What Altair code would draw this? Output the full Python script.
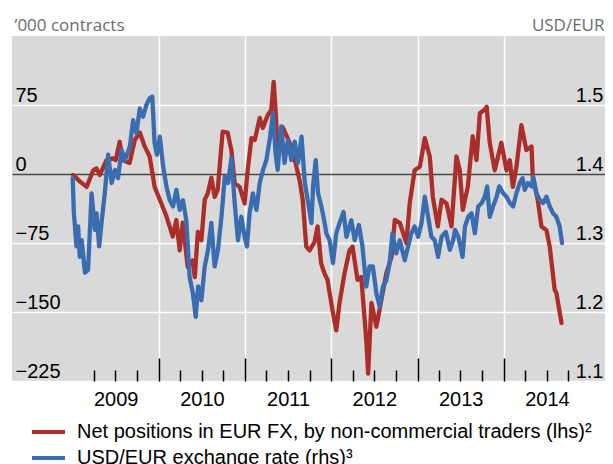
import altair as alt
import pandas as pd

# ---------------- data ----------------
red_dates = [
    "2009-01-03", "2009-01-31", "2009-03-01", "2009-03-29", "2009-04-12", "2009-04-26",
    "2009-05-24", "2009-06-20", "2009-07-02", "2009-07-19", "2009-08-01", "2009-08-30",
    "2009-09-21", "2009-10-12", "2009-11-02", "2009-11-23", "2009-12-14", "2010-01-05",
    "2010-02-02", "2010-03-01", "2010-03-16", "2010-03-30", "2010-04-12", "2010-05-03",
    "2010-05-24", "2010-06-02", "2010-06-15", "2010-06-30", "2010-07-14", "2010-07-27",
    "2010-08-11", "2010-08-25", "2010-09-07", "2010-09-28", "2010-10-19", "2010-11-04",
    "2010-11-18", "2010-12-09", "2010-12-30", "2011-01-12", "2011-01-28", "2011-02-11",
    "2011-03-04", "2011-03-17", "2011-04-07", "2011-04-22", "2011-05-02", "2011-05-10",
    "2011-05-19", "2011-06-09", "2011-06-30", "2011-07-21", "2011-08-06", "2011-08-20",
    "2011-09-02", "2011-09-17", "2011-10-01", "2011-10-22", "2011-11-04", "2011-11-19",
    "2011-12-03", "2011-12-16", "2012-01-06", "2012-01-22", "2012-02-05", "2012-02-26",
    "2012-03-18", "2012-03-31", "2012-04-21", "2012-05-07", "2012-05-28", "2012-06-05",
    "2012-06-19", "2012-07-10", "2012-07-31", "2012-08-21", "2012-09-12", "2012-09-26",
    "2012-10-17", "2012-11-14", "2012-11-28", "2012-12-19", "2013-01-10", "2013-01-31",
    "2013-02-21", "2013-03-06", "2013-03-27", "2013-04-12", "2013-05-03", "2013-05-24",
    "2013-06-14", "2013-06-28", "2013-07-11", "2013-08-01", "2013-08-22", "2013-09-07",
    "2013-09-21", "2013-10-12", "2013-10-20", "2013-11-02", "2013-11-23", "2013-12-21",
    "2014-01-12", "2014-01-26", "2014-02-08", "2014-02-23", "2014-03-16", "2014-04-06",
    "2014-04-28", "2014-05-03", "2014-05-24", "2014-06-09", "2014-06-30", "2014-07-14",
    "2014-08-04", "2014-08-11", "2014-09-02",
]
red_values = [
    -1, -8, -14, 4, 6, -1,
    15, 17, 15, 35, 15, 12,
    37, 45, 30, 19, -14, -28,
    -46, -68, -50, -83, -53, -101,
    -94, -112, -63, -72, -28, -21,
    -4, -25, -17, 46, 45, 26,
    -10, -14, -32, 4, 39, 37,
    61, 50, 64, 70, 100, 70,
    26, 51, 39, 26, 8, -7,
    -28, -79, -83, -74, -57, -97,
    -108, -115, -148, -170, -140, -108,
    -83, -79, -115, -112, -180, -217,
    -140, -166, -137, -108, -90, -50,
    -53, -75, -32, 4, 8, 39,
    19, -25, -57, -28, -32, -57,
    19, 4, -39, -14, 41, 15,
    66, 70, 73, 34, 4, 34,
    4, 15, -14, 8, 53, 26,
    30, -3, -28, -57, -61, -79,
    -126, -129, -162,
]

blue_dates = [
    "2009-01-01", "2009-01-06", "2009-01-17", "2009-01-24", "2009-01-31", "2009-02-08",
    "2009-02-22", "2009-03-07", "2009-03-22", "2009-04-05", "2009-04-12", "2009-04-23",
    "2009-05-03", "2009-05-17", "2009-05-31", "2009-06-15", "2009-06-29", "2009-07-12",
    "2009-07-27", "2009-08-10", "2009-08-31", "2009-09-14", "2009-09-28", "2009-10-12",
    "2009-10-26", "2009-11-09", "2009-11-23", "2009-12-04", "2009-12-14", "2009-12-24",
    "2010-01-05", "2010-01-19", "2010-02-02", "2010-02-16", "2010-03-02", "2010-03-16",
    "2010-03-30", "2010-04-13", "2010-04-27", "2010-05-11", "2010-05-25", "2010-06-06",
    "2010-06-16", "2010-06-30", "2010-07-14", "2010-07-28", "2010-08-11", "2010-08-25",
    "2010-09-08", "2010-09-23", "2010-10-07", "2010-10-21", "2010-11-04", "2010-11-18",
    "2010-12-02", "2010-12-16", "2010-12-30", "2011-01-09", "2011-01-20", "2011-02-03",
    "2011-02-18", "2011-03-04", "2011-03-18", "2011-04-01", "2011-04-15", "2011-04-29",
    "2011-05-10", "2011-05-19", "2011-06-03", "2011-06-17", "2011-07-01", "2011-07-16",
    "2011-07-30", "2011-08-13", "2011-08-28", "2011-09-11", "2011-09-25", "2011-10-09",
    "2011-10-16", "2011-10-27", "2011-11-06", "2011-11-20", "2011-12-04", "2011-12-11",
    "2011-12-25", "2012-01-08", "2012-01-22", "2012-02-05", "2012-02-22", "2012-03-05",
    "2012-03-26", "2012-04-09", "2012-04-27", "2012-05-12", "2012-05-28", "2012-06-11",
    "2012-06-25", "2012-07-10", "2012-07-24", "2012-08-07", "2012-08-21", "2012-09-04",
    "2012-09-16", "2012-10-02", "2012-10-17", "2012-11-07", "2012-11-21", "2012-12-05",
    "2012-12-19", "2013-01-03", "2013-01-17", "2013-01-31", "2013-02-14", "2013-02-28",
    "2013-03-14", "2013-03-28", "2013-04-12", "2013-04-30", "2013-05-17", "2013-05-31",
    "2013-06-08", "2013-06-22", "2013-07-10", "2013-07-20", "2013-08-03", "2013-08-17",
    "2013-08-31", "2013-09-14", "2013-09-29", "2013-10-12", "2013-10-22", "2013-11-02",
    "2013-11-16", "2013-12-01", "2013-12-12", "2013-12-29", "2014-01-12", "2014-01-26",
    "2014-02-09", "2014-02-23", "2014-03-09", "2014-03-21", "2014-03-30", "2014-04-13",
    "2014-04-28", "2014-05-05", "2014-05-19", "2014-06-02", "2014-06-16", "2014-06-30",
    "2014-07-14", "2014-07-28", "2014-08-11", "2014-08-25", "2014-09-04",
]
blue_values = [
    1.394, 1.344, 1.295, 1.324, 1.280, 1.304,
    1.257, 1.261, 1.372, 1.319, 1.343, 1.295,
    1.329, 1.372, 1.428, 1.387, 1.406, 1.394,
    1.435, 1.420, 1.440, 1.478, 1.459, 1.495,
    1.483, 1.500, 1.510, 1.512, 1.444, 1.428,
    1.454, 1.411, 1.382, 1.362, 1.353, 1.377,
    1.348, 1.362, 1.333, 1.251, 1.227, 1.193,
    1.237, 1.217, 1.266, 1.290, 1.329, 1.266,
    1.290, 1.338, 1.396, 1.387, 1.423, 1.358,
    1.304, 1.338, 1.309, 1.295, 1.343, 1.372,
    1.348, 1.387, 1.406, 1.420, 1.449, 1.488,
    1.430, 1.406, 1.469, 1.416, 1.449, 1.420,
    1.447, 1.416, 1.454, 1.387, 1.358, 1.329,
    1.382, 1.420, 1.372, 1.353, 1.329, 1.314,
    1.304, 1.271, 1.314, 1.329, 1.345, 1.309,
    1.333, 1.304, 1.326, 1.295, 1.237, 1.266,
    1.266, 1.227, 1.208, 1.237, 1.246, 1.271,
    1.314, 1.285, 1.304, 1.275, 1.295, 1.314,
    1.324, 1.309, 1.329, 1.367, 1.338, 1.309,
    1.304, 1.280, 1.309, 1.316, 1.290, 1.304,
    1.319, 1.309, 1.280, 1.324, 1.338, 1.343,
    1.314, 1.353, 1.358, 1.367, 1.382, 1.338,
    1.353, 1.367, 1.382, 1.372, 1.367, 1.358,
    1.353, 1.372, 1.387, 1.394, 1.377, 1.387,
    1.382, 1.396, 1.372, 1.362, 1.358, 1.367,
    1.353, 1.343, 1.338, 1.324, 1.300,
]

series_names = [
    "Net positions in EUR FX, by non-commercial traders (lhs)\u00b2",
    "USD/EUR exchange rate (rhs)\u00b3",
]
series_colors = ["#ab2e2b", "#3a6cb0"]

year_label_years = [2009, 2010, 2011, 2012, 2013, 2014]
quarter_ticks = [(y, m) for y in range(2009, 2015) for m in (1, 4, 7, 10)][1:]
left_ticks = [-225, -150, -75, 0, 75]
right_ticks = [1.1, 1.2, 1.3, 1.4, 1.5]

left_domain = [-225, 150]
right_domain = [1.1, 1.6]

# ---------------- frames ----------------
red_df = pd.DataFrame({"date": red_dates, "value": red_values, "series": series_names[0]})
blue_df = pd.DataFrame({"date": blue_dates, "value": blue_values, "series": series_names[1]})

PLOT_W = 593
PLOT_H = 345
BG = "#d9d9d9"
TEXT_FONT = "Liberation Sans"
TITLE_FONT = "Open Sans"
FS = 20

x_scale = alt.Scale(
    type="utc",
    domain=[alt.DateTime(year=2008, month=4, date=19, utc=True),
            alt.DateTime(year=2015, month=3, date=5, utc=True)],
    nice=False,
)

color = alt.Color(
    "series:N",
    scale=alt.Scale(domain=series_names, range=series_colors),
    legend=alt.Legend(
        orient="none", legendX=18, legendY=383, direction="vertical", title=None,
        symbolType="stroke", symbolStrokeWidth=4, symbolSize=1089, symbolOpacity=1,
        labelFont=TEXT_FONT, labelFontSize=FS, labelColor="black", labelLimit=800,
        labelOffset=10, clipHeight=26, rowPadding=0, padding=0,
    ),
)

# bottom axis: year labels centred on each year
x_bottom = alt.X(
    "date:T", scale=x_scale, title=None,
    axis=alt.Axis(
        orient="bottom",
        values=[alt.DateTime(year=y, month=1, date=1, utc=True) for y in year_label_years],
        labelExpr="utcFormat(datum.value, '%Y')",
        labelOffset=43, labelPadding=8, labelFont=TEXT_FONT, labelFontSize=FS,
        labelColor="black", labelOverlap=False, labelFlush=False, labelBound=False,
        ticks=False, tickSize=0, domain=False, grid=False,
    ),
)

# top-oriented axis moved to the bottom edge: inward quarterly ticks and yearly gridlines
x_ticks = alt.X(
    "date:T", scale=x_scale, title=None,
    axis=alt.Axis(
        orient="top", offset=-PLOT_H,
        values=[alt.DateTime(year=y, month=m, date=1, utc=True) for (y, m) in quarter_ticks],
        labels=False, domain=False,
        ticks=True, tickColor="black", tickWidth=1.5,
        tickSize={"condition": {"test": "utcmonth(datum.value) == 0", "value": 23}, "value": 11},
        grid=True, gridColor="white", gridWidth=1.5,
        gridOpacity={"condition": {"test": "utcmonth(datum.value) == 0", "value": 1}, "value": 0},
    ),
)

red = alt.Chart(red_df).mark_line(strokeWidth=4.3, strokeJoin="round", strokeCap="round").encode(
    x=x_bottom,
    y=alt.Y(
        "value:Q",
        scale=alt.Scale(domain=left_domain, nice=False, zero=False),
        axis=alt.Axis(
            orient="left", values=left_ticks,
            grid=True,
            gridColor={"condition": {"test": "datum.value == 0", "value": "#4a4a4a"}, "value": "white"},
            gridWidth=1.5,
            ticks=False, tickSize=0, domain=False,
            labelAlign="left", labelBaseline="bottom", labelPadding=-3,
            labelFont=TEXT_FONT, labelFontSize=FS, labelColor="black",
            labelOverlap=False, labelBound=False, labelFlush=False,
            labelExpr="replace(format(datum.value, 'd'), '-', '\u2013')",
            title="\u2019000 contracts", titleAngle=0, titleAlign="left",
            titleBaseline="alphabetic", titleX=2, titleY=-6,
            titleFont=TITLE_FONT, titleFontSize=17, titleFontWeight="normal",
            titleColor="#6b6b6b",
        ),
    ),
    color=color,
)

blue = alt.Chart(blue_df).mark_line(strokeWidth=4.3, strokeJoin="round", strokeCap="round").encode(
    x=x_ticks,
    y=alt.Y(
        "value:Q",
        scale=alt.Scale(domain=right_domain, nice=False, zero=False),
        axis=alt.Axis(
            orient="right", values=right_ticks, format=".1f",
            grid=False, ticks=False, tickSize=0, domain=False,
            labelAlign="right", labelBaseline="bottom", labelPadding=-2,
            labelFont=TEXT_FONT, labelFontSize=FS, labelColor="black",
            labelOverlap=False, labelBound=False, labelFlush=False,
            title="USD/EUR", titleAngle=0, titleAlign="right",
            titleBaseline="alphabetic", titleX=-1, titleY=-6,
            titleFont=TITLE_FONT, titleFontSize=17, titleFontWeight="normal",
            titleColor="#6b6b6b",
        ),
    ),
    color=color,
)

chart = (
    alt.layer(red, blue)
    .resolve_scale(y="independent")
    .resolve_axis(x="independent", y="independent")
    .properties(
        width=PLOT_W, height=PLOT_H,
        padding={"left": 4, "top": 28, "right": 0, "bottom": 83},
        autosize=alt.AutoSizeParams(type="none"),
        background="white",
    )
    .configure_view(fill=BG, stroke=None)
)

chart.save("out.html", embed_options={"renderer": "svg", "actions": False})
